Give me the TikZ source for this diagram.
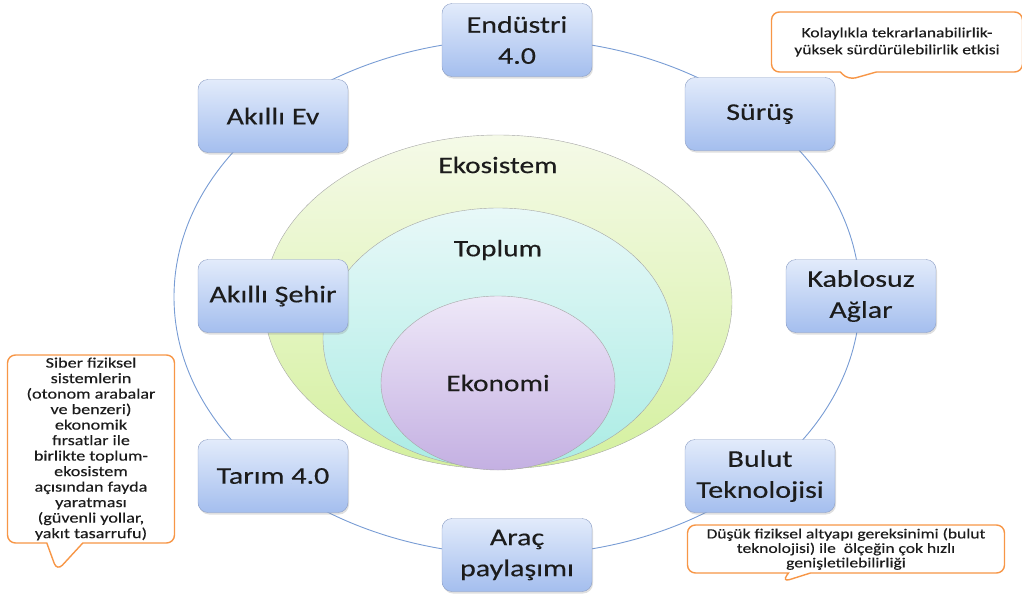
\documentclass[tikz,border=0pt]{standalone}
\usepackage{fontspec}
\setmainfont{Carlito}[FakeStretch=1.25,FakeBold=0.3]
\usetikzlibrary{shapes.callouts,shadows,positioning}
\definecolor{boxtop}{RGB}{226,235,251}
\definecolor{boxbot}{RGB}{164,190,238}
\definecolor{boxline}{RGB}{140,158,196}
\definecolor{ringblue}{RGB}{120,156,212}
\definecolor{noteorange}{RGB}{247,150,70}
\definecolor{txt}{RGB}{28,28,28}
\definecolor{ecotop}{RGB}{245,250,232}
\definecolor{ecobot}{RGB}{212,240,158}
\definecolor{soctop}{RGB}{232,248,248}
\definecolor{socbot}{RGB}{170,236,228}
\definecolor{ekotop}{RGB}{238,232,248}
\definecolor{ekobot}{RGB}{196,176,226}
\tikzset{topic/.style={draw=boxline,rounded corners=10pt,top color=boxtop,bottom color=boxbot,minimum width=150pt,minimum height=73pt,align=center,text=txt,font=\fontsize{24}{31}\selectfont,drop shadow={opacity=.25,shadow xshift=1pt,shadow yshift=-2pt}},
layer/.style={text=txt,font=\fontsize{23.5}{27}\selectfont},
note/.style={rectangle callout,draw=noteorange,line width=1.4pt,fill=white,rounded corners=8pt,align=center,text=txt,inner sep=2pt}}

\begin{document}
\begin{tikzpicture}[x=1pt,y=-1pt]

\useasboundingbox (0,0) rectangle (1022,597);

% The ring
\draw[ringblue,line width=.9pt] (517,297) ellipse [x radius=343,y radius=258];

% The nested layers
\shade[draw=gray!70,top color=ecotop,bottom color=ecobot] (498,302) ellipse [x radius=234,y radius=167];
\shade[draw=gray!70,top color=soctop,bottom color=socbot] (498,338) ellipse [x radius=175,y radius=130];
\shade[draw=gray!70,top color=ekotop,bottom color=ekobot] (498,383) ellipse [x radius=117,y radius=87];
\node[layer] (ekosistem) at (498,165) {Ekosistem};
\node[layer] (toplum) at (498,250) {Toplum};
\node[layer] (ekonomi) at (498,383) {Ekonomi};

% Nodes
\node[topic] (endustri) at (517,40) {Endüstri\\4.0};
\node[topic] (surus) at (760,114) {Sürüş};
\node[topic] (kablosuz) at (861,296) {Kablosuz\\Ağlar};
\node[topic] (bulut) at (760,476) {Bulut\\Teknolojisi};
\node[topic] (arac) at (517,555) {Araç\\paylaşımı};
\node[topic] (tarim) at (273,476) {Tarım 4.0};
\node[topic] (sehir) at (273,296) {Akıllı Şehir};
\node[topic] (ev) at (273,116) {Akıllı Ev};

% The notes
\coordinate (tip1) at (848,80);
\coordinate (tip2) at (57,571);
\coordinate (tip3) at (782,582);
\node[note,minimum width=251pt,minimum height=60pt,callout absolute pointer={(tip1)},callout pointer width=36pt,font=\fontsize{14}{17}\selectfont] (note1) at (897,42) {Kolaylıkla tekrarlanabilirlik-\\yüksek sürdürülebilirlik etkisi};
\node[note,minimum width=167pt,minimum height=188pt,callout absolute pointer={(tip2)},callout pointer width=36pt,font=\fontsize{14.5}{15.5}\selectfont] (note2) at (91,449) {Siber fiziksel\\sistemlerin\\(otonom arabalar\\ve benzeri)\\ekonomik\\fırsatlar ile\\birlikte toplum-\\ekosistem\\açısından fayda\\yaratması\\(güvenli yollar,\\yakıt tasarrufu)};
\node[note,minimum width=317pt,minimum height=48pt,callout absolute pointer={(tip3)},callout pointer width=22pt,font=\fontsize{14}{14.5}\selectfont] (note3) at (846,549) {Düşük fiziksel altyapı gereksinimi (bulut\\teknolojisi) ile\ \ ölçeğin çok hızlı\\genişletilebilirliği};

\end{tikzpicture}
\end{document}
